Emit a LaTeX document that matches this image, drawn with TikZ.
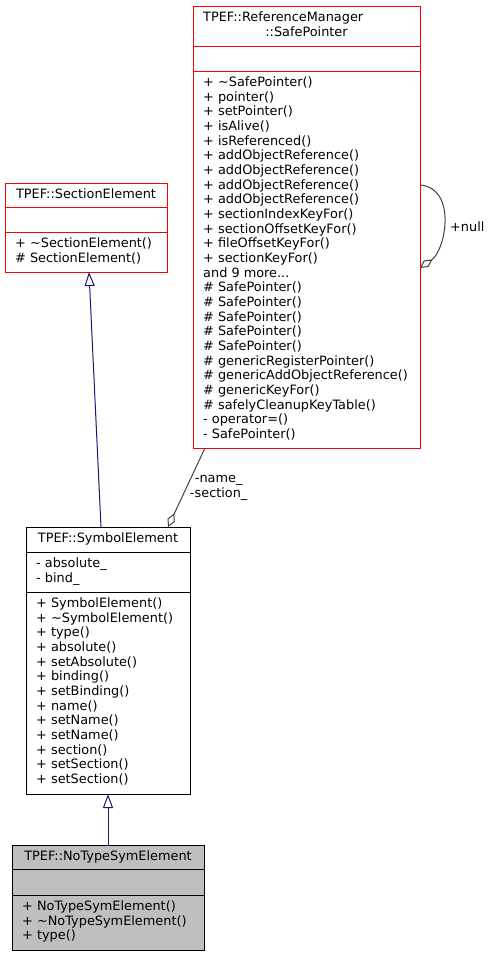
\documentclass[tikz,border=0pt]{standalone}
\usepackage{fontspec}
\setmainfont{DejaVu Sans}
\usetikzlibrary{arrows.meta}
\definecolor{edgeblue}{HTML}{191970}
\definecolor{edgegrey}{HTML}{404040}
\definecolor{ntfill}{HTML}{BFBFBF}
\newcommand\mydots{...}
\tikzset{
  classbox/.style={draw, line width=1pt, inner sep=0pt, outer sep=0pt, anchor=north west},
  sepline/.style={line width=1pt},
  memtext/.style={anchor=base west, inner sep=0pt, font=\fontsize{12.87}{14.67}\selectfont},
  ttltext/.style={anchor=base, inner sep=0pt, font=\fontsize{12.87}{14.67}\selectfont},
  inh/.style={draw=edgeblue, line width=1pt, -{Triangle[open, length=14pt, width=10pt, fill=white]}},
  agg/.style={draw=edgegrey, line width=1pt, -{Diamond[open, length=15pt, width=8pt, fill=white]}}
}
\begin{document}
\begin{tikzpicture}[x=1pt,y=-1pt]
\useasboundingbox[fill=white] (0,0) rectangle (490,956);

% SafePointer
\node[classbox, draw=red, minimum width=227pt, minimum height=442pt] (sp) at (193,6) {};
\draw[sepline, red] (sp.west |- 0,46) -- (sp.east |- 0,46);
\draw[sepline, red] (sp.west |- 0,71) -- (sp.east |- 0,71);
\node[memtext] (spt1) at (203,21.5) {TPEF::ReferenceManager};
\node[ttltext] (spt2) at (306.5,36.2) {::SafePointer};
\foreach \t [count=\i from 0] in {
  {+ \textasciitilde SafePointer()},{+ pointer()},{+ setPointer()},{+ isAlive()},
  {+ isReferenced()},{+ addObjectReference()},{+ addObjectReference()},
  {+ addObjectReference()},{+ addObjectReference()},{+ sectionIndexKeyFor()},
  {+ sectionOffsetKeyFor()},{+ fileOffsetKeyFor()},{+ sectionKeyFor()},
  {and 9 more\mydots},{\# SafePointer()},{\# SafePointer()},{\# SafePointer()},
  {\# SafePointer()},{\# SafePointer()},{\# genericRegisterPointer()},
  {\# genericAddObjectReference()},{\# genericKeyFor()},{\# safelyCleanupKeyTable()},
  {- operator=()},{- SafePointer()}}
  \node[memtext, name=spm\i] at (203,86.5+\i*14.67) {\t};

% SectionElement
\node[classbox, draw=red, minimum width=162pt, minimum height=89pt] (sec) at (5,183) {};
\draw[sepline, red] (sec.west |- 0,207) -- (sec.east |- 0,207);
\draw[sepline, red] (sec.west |- 0,232) -- (sec.east |- 0,232);
\node[ttltext] (sect) at (86,198) {TPEF::SectionElement};
\node[memtext] (secm1) at (15,247.5) {+ \textasciitilde SectionElement()};
\node[memtext] (secm2) at (15,262.2) {\# SectionElement()};

% SymbolElement
\node[classbox, draw=black, minimum width=164pt, minimum height=267pt] (sym) at (26,527) {};
\draw[sepline] (sym.west |- 0,552) -- (sym.east |- 0,552);
\draw[sepline] (sym.west |- 0,592) -- (sym.east |- 0,592);
\node[ttltext] (symt) at (108,542.5) {TPEF::SymbolElement};
\node[memtext] (syma1) at (36,567.5) {- absolute\_};
\node[memtext] (syma2) at (36,582.2) {- bind\_};
\foreach \t [count=\i from 0] in {
  {+ SymbolElement()},{+ \textasciitilde SymbolElement()},{+ type()},{+ absolute()},
  {+ setAbsolute()},{+ binding()},{+ setBinding()},{+ name()},{+ setName()},
  {+ setName()},{+ section()},{+ setSection()},{+ setSection()}}
  \node[memtext, name=symm\i] at (36,607.5+\i*14.67) {\t};

% NoTypeSymElement
\node[classbox, draw=black, fill=ntfill, minimum width=192pt, minimum height=105pt] (nt) at (12,845) {};
\draw[sepline] (nt.west |- 0,869) -- (nt.east |- 0,869);
\draw[sepline] (nt.west |- 0,895) -- (nt.east |- 0,895);
\node[ttltext] (ntt) at (108,860.5) {TPEF::NoTypeSymElement};
\node[memtext] (ntm1) at (22,910.5) {+ NoTypeSymElement()};
\node[memtext] (ntm2) at (22,925.2) {+ \textasciitilde NoTypeSymElement()};
\node[memtext] (ntm3) at (22,939.8) {+ type()};

% connectors
\draw[inh] ([xshift=-7pt]sym.north) -- ([xshift=3pt]sec.south);
\draw[inh] (nt.north) -- (sym.south);
\draw[agg] ([xshift=-101.5pt]sp.south) -- ([xshift=60pt]sym.north);
\node[ttltext] (lname) at (218.7,482.5) {-name\_};
\node[ttltext] (lsection) at (218.7,497) {-section\_};
\draw[agg] ([yshift=42pt]sp.east) .. controls +(37,3) and +(26,-18) .. ([yshift=-41pt]sp.east);
\node[memtext] (lnull) at (450,231) {+null};
\end{tikzpicture}
\end{document}
